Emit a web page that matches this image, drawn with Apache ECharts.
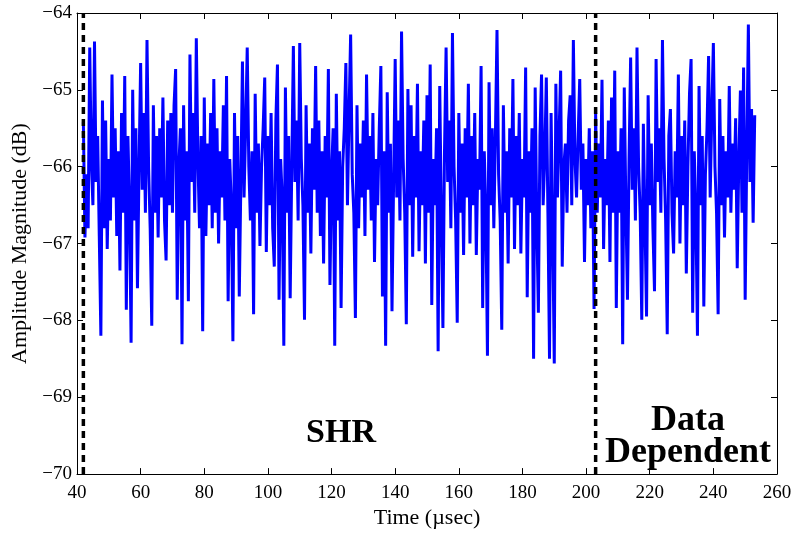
<!DOCTYPE html>
<html>
<head>
<meta charset="utf-8">
<script src="https://cdn.jsdelivr.net/npm/echarts@6/dist/echarts.min.js"></script>
<style>html,body{margin:0;padding:0;background:#fff}#c{width:796px;height:534px}</style>
</head>
<body>
<div id="c"></div>
<script>
// time axis samples (µs)
const tStart = 42.0;
const tStep = 0.5;
// amplitude magnitude (dB)
const amps = [
-65.42,-66.92,-66.1,-66.8,-64.45,-65.93,-66.5,-64.37,-66.2,-65.6,-66.9,-68.2,-65.14,-66.8,-65.4,-67.07,-65.9,-66.7,-64.8,-66.4,
-65.5,-66.9,-65.8,-67.35,-65.3,-66.6,-64.82,-67.86,-65.6,-66.5,-68.29,-65.0,-66.7,-65.5,-67.58,-66.0,-64.65,-66.3,-65.3,-66.6,
-64.35,-66.0,-66.8,-68.07,-65.2,-66.6,-65.6,-66.92,-65.5,-66.4,-65.1,-66.7,-67.22,-65.4,-66.5,-65.3,-66.6,-65.2,-64.73,-67.73,
-66.0,-65.5,-68.31,-65.2,-66.7,-65.8,-67.75,-64.54,-66.2,-65.3,-66.6,-64.33,-65.9,-66.8,-65.6,-68.14,-65.1,-66.9,-65.7,-66.5,
-65.3,-66.8,-64.86,-66.6,-65.5,-67.0,-65.8,-66.4,-65.2,-66.7,-64.82,-67.75,-65.9,-66.5,-68.27,-65.3,-66.8,-65.6,-67.69,-66.2,
-64.63,-66.4,-65.5,-64.45,-66.0,-66.7,-65.8,-67.92,-65.05,-66.6,-65.7,-67.03,-66.0,-65.5,-64.84,-67.11,-65.6,-66.5,-65.3,-66.8,
-67.3,-65.4,-64.67,-67.73,-65.9,-66.4,-68.33,-64.97,-66.6,-65.6,-67.71,-66.0,-64.43,-66.2,-65.4,-66.7,-64.39,-65.9,-66.5,-67.99,
-65.2,-66.6,-65.7,-67.13,-65.5,-66.3,-64.69,-66.6,-65.4,-66.9,-65.8,-67.26,-65.6,-66.4,-64.73,-67.54,-66.1,-65.5,-68.33,-65.05,
-66.7,-65.8,-67.84,-66.0,-65.5,-64.65,-66.5,-65.3,-64.28,-66.1,-66.6,-67.97,-65.2,-66.8,-65.7,-66.4,-65.4,-66.9,-64.8,-66.3,
-65.6,-66.7,-65.3,-67.24,-65.9,-66.5,-65.5,-64.69,-67.69,-65.8,-68.33,-65.03,-66.6,-65.7,-67.88,-66.2,-64.6,-66.4,-65.4,-66.7,
-64.24,-65.9,-66.6,-68.05,-64.99,-66.5,-65.2,-67.17,-65.6,-66.4,-64.92,-67.1,-65.8,-66.5,-65.4,-67.26,-65.07,-66.6,-64.67,-67.8,
-65.9,-66.5,-65.5,-68.4,-64.95,-66.6,-68.1,-65.8,-64.45,-66.2,-65.4,-66.8,-64.26,-66.0,-66.7,-68.03,-65.3,-66.6,-65.7,-67.15,
-65.5,-66.4,-64.92,-67.0,-65.6,-66.5,-65.3,-67.15,-65.9,-66.3,-64.69,-67.84,-65.8,-66.6,-68.46,-64.9,-66.5,-65.5,-66.8,-65.6,
-64.22,-66.1,-66.7,-68.12,-65.2,-66.6,-65.8,-67.26,-65.5,-66.4,-64.86,-67.07,-65.6,-66.5,-65.3,-67.13,-65.9,-66.4,-64.71,-67.7,
-65.8,-66.6,-65.5,-68.5,-64.97,-66.7,-67.9,-65.6,-64.8,-66.5,-65.9,-64.84,-66.6,-68.5,-65.3,-66.8,-68.56,-64.92,-66.4,-65.6,
-64.75,-67.3,-66.0,-65.7,-66.6,-65.4,-65.07,-66.5,-64.35,-65.9,-66.4,-65.6,-64.86,-66.3,-65.7,-67.24,-65.9,-66.5,-65.5,-66.8,
-65.8,-67.85,-65.3,-66.6,-65.7,-66.4,-64.87,-67.07,-65.9,-66.5,-65.4,-67.24,-65.1,-66.6,-64.75,-67.84,-65.8,-66.6,-65.5,-68.31,
-64.97,-66.5,-67.73,-65.9,-64.58,-66.3,-65.5,-66.7,-64.45,-66.0,-66.6,-67.99,-65.44,-66.7,-67.95,-65.07,-66.5,-65.7,-66.8,-67.62,
-64.6,-66.2,-65.5,-66.6,-64.35,-65.9,-66.7,-68.18,-65.6,-65.25,-66.6,-67.13,-65.8,-66.4,-64.8,-67.0,-65.6,-66.5,-65.4,-67.39,
-66.0,-65.05,-64.6,-67.9,-65.8,-66.6,-68.2,-64.95,-66.5,-65.6,-67.82,-66.1,-65.5,-64.56,-66.4,-65.3,-64.39,-66.0,-66.6,-67.92,
-65.12,-66.5,-65.6,-66.92,-65.8,-66.4,-64.95,-66.6,-65.7,-66.3,-65.37,-67.32,-65.9,-65.01,-66.6,-64.71,-67.73,-65.8,-64.15,-66.2,
-65.25,-66.73,-65.33
];
// boundary markers (µs)
const markerTimes = [42, 203];
const yRange = [-70, -64];
// tick labels
const xTicks = [40, 60, 80, 100, 120, 140, 160, 180, 200, 220, 240, 260];
const yTicks = [-70, -69, -68, -67, -66, -65, -64];

const lineData = amps.map((v, i) => [tStart + i * tStep, v]);
const FONT = '"Liberation Serif", "Times New Roman", serif';
const minus = v => String(v).replace('-', '\u2212');

const chart = echarts.init(document.getElementById('c'), null, {renderer: 'canvas'});
const axisCommon = {
  axisLine: {show: true, onZero: false, lineStyle: {color: '#000', width: 1}},
  axisTick: {show: true, inside: true, length: 6, lineStyle: {color: '#000', width: 1}},
  splitLine: {show: false}
};
const series = [{
  type: 'line', data: lineData, showSymbol: false, symbol: 'none',
  lineStyle: {color: '#0000ff', width: 3}, z: 3, clip: true
}];
markerTimes.forEach(t => {
  series.push({
    type: 'line', data: [[t, yRange[0]], [t, yRange[1]]], showSymbol: false, symbol: 'none',
    lineStyle: {color: '#000', width: 3.5, type: [7, 5]}, z: 4
  });
});
chart.setOption({
  animation: false,
  backgroundColor: '#fff',
  grid: {left: 77, right: 19, top: 13, bottom: 54, containLabel: false},
  xAxis: [
    Object.assign({}, axisCommon, {
      type: 'value', min: xTicks[0], max: xTicks[xTicks.length - 1], interval: 20, position: 'bottom',
      name: 'Time (\u00b5sec)', nameLocation: 'middle', nameGap: 31,
      nameTextStyle: {fontFamily: FONT, fontSize: 22, color: '#000'},
      axisLabel: {fontFamily: FONT, fontSize: 19, color: '#000', margin: 9, formatter: minus}
    }),
    Object.assign({}, axisCommon, {
      type: 'value', min: xTicks[0], max: xTicks[xTicks.length - 1], interval: 20, position: 'top',
      axisLabel: {show: false}
    })
  ],
  yAxis: [
    Object.assign({}, axisCommon, {
      type: 'value', min: yTicks[0], max: yTicks[yTicks.length - 1], interval: 1, position: 'left',
      name: 'Amplitude Magnitude (dB)', nameLocation: 'middle', nameGap: 45, nameRotate: 90,
      nameTextStyle: {fontFamily: FONT, fontSize: 22, color: '#000'},
      axisLabel: {fontFamily: FONT, fontSize: 19, color: '#000', margin: 5, formatter: minus}
    }),
    Object.assign({}, axisCommon, {
      type: 'value', min: yTicks[0], max: yTicks[yTicks.length - 1], interval: 1, position: 'right',
      axisLabel: {show: false}
    })
  ],
  series: series,
  graphic: [
    {type: 'text', x: 341, y: 433, style: {text: 'SHR', font: 'bold 34px ' + FONT, fill: '#000', align: 'center', verticalAlign: 'middle'}, z: 10},
    {type: 'text', x: 688, y: 421, style: {text: 'Data', font: 'bold 36px ' + FONT, fill: '#000', align: 'center', verticalAlign: 'middle'}, z: 10},
    {type: 'text', x: 688, y: 453, style: {text: 'Dependent', font: 'bold 36px ' + FONT, fill: '#000', align: 'center', verticalAlign: 'middle'}, z: 10}
  ]
});
</script>
</body>
</html>
